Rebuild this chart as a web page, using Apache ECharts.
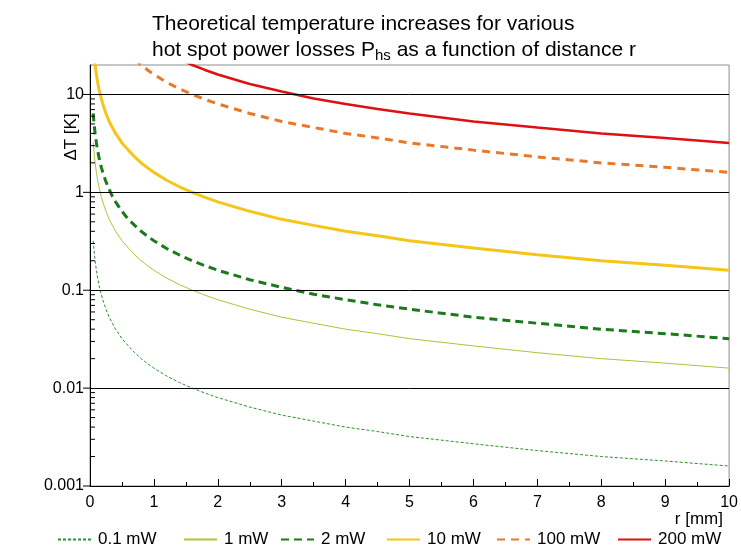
<!DOCTYPE html>
<html>
<head>
<meta charset="utf-8">
<script src="https://cdn.jsdelivr.net/npm/echarts@6/dist/echarts.min.js"></script>
<style>html,body{margin:0;padding:0;background:#fff}#c{width:741px;height:552px}</style>
</head>
<body>
<div id="c"></div>
<script>
// distance r [mm]
const rValues = [0.05,0.06,0.07,0.08,0.09,0.1,0.12,0.14,0.16,0.18,0.2,0.25,0.3,0.35,0.4,0.5,0.6,0.7,0.8,0.9,1,1.2,1.4,1.6,1.8,2,2.5,3,3.5,4,4.5,5,6,7,8,9,10];
// temperature increase ΔT [K] (null = above the plot)
const dT_01mW  = [0.32,0.27,0.23,0.2,0.178,0.16,0.133,0.114,0.1,0.089,0.08,0.064,0.053,0.046,0.04,0.032,0.027,0.023,0.02,0.0178,0.016,0.0133,0.0114,0.01,0.0089,0.008,0.0064,0.0053,0.0046,0.004,0.0036,0.0032,0.0027,0.0023,0.002,0.0018,0.0016];
const dT_1mW   = [3.2,2.7,2.3,2,1.78,1.6,1.33,1.14,1,0.89,0.8,0.64,0.53,0.46,0.4,0.32,0.27,0.23,0.2,0.178,0.16,0.133,0.114,0.1,0.089,0.08,0.064,0.053,0.046,0.04,0.036,0.032,0.027,0.023,0.02,0.018,0.016];
const dT_2mW   = [6.4,5.3,4.6,4,3.56,3.2,2.67,2.29,2,1.78,1.6,1.28,1.07,0.91,0.8,0.64,0.53,0.46,0.4,0.356,0.32,0.267,0.229,0.2,0.178,0.16,0.128,0.107,0.091,0.08,0.071,0.064,0.053,0.046,0.04,0.036,0.032];
const dT_10mW  = [null,null,22.9,20,17.8,16,13.3,11.4,10,8.9,8,6.4,5.3,4.6,4,3.2,2.7,2.3,2,1.78,1.6,1.33,1.14,1,0.89,0.8,0.64,0.53,0.46,0.4,0.36,0.32,0.27,0.23,0.2,0.18,0.16];
const dT_100mW = [null,null,null,null,null,null,null,null,null,null,null,null,null,null,null,null,null,22.9,20,17.8,16,13.3,11.4,10,8.9,8,6.4,5.3,4.6,4,3.6,3.2,2.7,2.3,2,1.8,1.6];
const dT_200mW = [null,null,null,null,null,null,null,null,null,null,null,null,null,null,null,null,null,null,null,null,null,null,22.9,20,17.8,16,12.8,10.7,9.1,8,7.1,6.4,5.3,4.6,4,3.6,3.2];
const seriesNames = ['0.1 mW','1 mW','2 mW','10 mW','100 mW','200 mW'];
const xTicks = [0,1,2,3,4,5,6,7,8,9,10];
const yMajorTicks = [0.001,0.01,0.1,1,10];
const yTickLabels = ['0.001','0.01','0.1','1','10'];
const yMinorTicks = [0.002,0.003,0.004,0.005,0.006,0.007,0.008,0.009,0.02,0.03,0.04,0.05,0.06,0.07,0.08,0.09,0.2,0.3,0.4,0.5,0.6,0.7,0.8,0.9,2,3,4,5,6,7,8,9];

const FONT = '"Liberation Sans", Arial, sans-serif';
const styles = [
  {color:'#2f8f2f', width:1, type:[3,2]},
  {color:'#a9c63a', width:1, type:'solid'},
  {color:'#1b7a1b', width:3, type:[8,5]},
  {color:'#f5c518', width:3, type:'solid'},
  {color:'#e8782a', width:3, type:[8,6]},
  {color:'#dd1111', width:2.5, type:'solid'}
];
const allData = [dT_01mW, dT_1mW, dT_2mW, dT_10mW, dT_100mW, dT_200mW];
const legendLeft = [57,183,280,386,496,617];

const chart = echarts.init(document.getElementById('c'), null, {renderer:'canvas'});

const series = [{
  type: 'line', name: 'grid', data: [], silent: true, z: 1,
  markLine: {
    silent: true, symbol: ['none','none'], animation: false,
    label: {show: false},
    lineStyle: {color: '#000', width: 1, type: 'solid'},
    emphasis: {disabled: true},
    data: yMajorTicks.map(v => ({yAxis: v}))
  }
}];
allData.forEach((d, i) => series.push({
  name: seriesNames[i],
  type: 'line',
  data: rValues.map((r, k) => [r, d[k]]),
  symbol: 'none',
  smooth: false,
  connectNulls: false,
  clip: true,
  lineStyle: {color: styles[i].color, width: styles[i].width, type: styles[i].type},
  itemStyle: {color: styles[i].color},
  z: 3
}));
series.push({
  type: 'custom',
  name: 'ticks',
  silent: true,
  clip: false,
  data: yMinorTicks.map(v => [0, v, 1]).concat(yMajorTicks.map(v => [0, v, 0])),
  renderItem: function (params, api) {
    const p = api.coord([0, api.value(1)]);
    const minor = api.value(2) === 1;
    return {type:'line', shape:{x1:p[0], y1:p[1], x2: minor ? p[0]+5 : p[0]-7, y2:p[1]},
            style:{stroke:'#000', lineWidth:1}};
  },
  z: 4
});

const legends = seriesNames.map((n, i) => ({
  data: [n],
  left: legendLeft[i],
  top: 531,
  itemWidth: 33,
  itemHeight: 14,
  itemGap: 0,
  padding: 0,
  itemStyle: {opacity: 0},
  textStyle: {fontFamily: FONT, fontSize: 17, color: '#000', padding:[0,0,0,2]}
}));

chart.setOption({
  animation: false,
  backgroundColor: '#fff',
  title: {
    text: 'Theoretical temperature increases for various\nhot spot power losses P{sub|hs} as a function of distance r',
    left: 147, top: 6,
    textStyle: {
      fontFamily: FONT, fontSize: 21, fontWeight: 'normal', color: '#000', lineHeight: 26,
      rich: {sub: {fontFamily: FONT, fontSize: 15, color: '#000', padding: [11,0,0,0], lineHeight: 26}}
    }
  },
  legend: legends,
  grid: {left: 90, right: 9, top: 65, bottom: 66, show: true, borderColor: '#8c8c8c', borderWidth: 1, backgroundColor: '#fff'},
  xAxis: {
    type: 'value', min: 0, max: 10, interval: 1,
    axisLine: {show: true, lineStyle: {color: '#000', width: 1}},
    axisTick: {show: true, inside: true, length: 7, lineStyle: {color: '#000'}},
    minorTick: {show: true, splitNumber: 2, length: 4, lineStyle: {color: '#000'}},
    splitLine: {show: false},
    axisLabel: {fontFamily: FONT, fontSize: 16, color: '#000', margin: 9,
      formatter: v => xTicks.indexOf(v) >= 0 ? String(v) : ''}
  },
  yAxis: {
    type: 'log', logBase: 10, min: 0.001, max: 20,
    axisLine: {show: true, lineStyle: {color: '#000', width: 1}},
    axisTick: {show: false},
    splitLine: {show: false},
    axisLabel: {fontFamily: FONT, fontSize: 16, color: '#000', margin: 6, showMaxLabel: false,
      formatter: function (v) {
        for (let i = 0; i < yMajorTicks.length; i++) {
          if (Math.abs(Math.log10(v) - Math.log10(yMajorTicks[i])) < 1e-6) return yTickLabels[i];
        }
        return '';
      }}
  },
  graphic: [
    {type:'text', x: 71, y: 137, rotation: Math.PI/2,
     style: {text: 'ΔT [K]', font: '17px ' + FONT, fill: '#000', align: 'center', verticalAlign: 'middle'}},
    {type:'text', x: 723, y: 519,
     style: {text: 'r [mm]', font: '17px ' + FONT, fill: '#000', align: 'right', verticalAlign: 'middle'}}
  ],
  series: series
});
</script>
</body>
</html>
